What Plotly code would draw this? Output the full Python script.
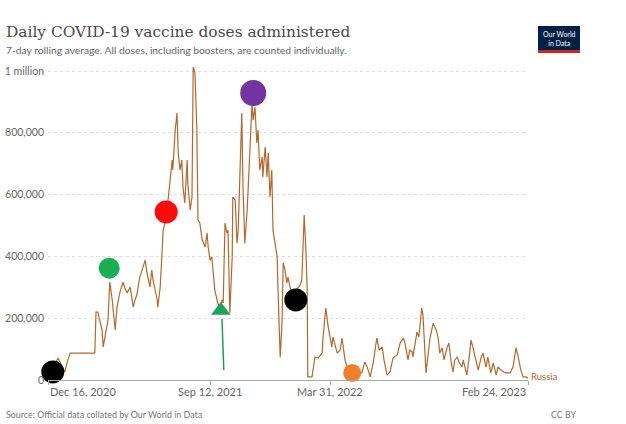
import pandas as pd
import plotly.graph_objects as go

# ---- data ----
start_date = "2020-12-16"
days = [0, 8, 13, 17, 22, 28, 33, 37, 78, 80, 83, 87, 90, 92, 95, 100, 103, 107, 112, 115,
        120, 125, 128, 132, 137, 142, 145, 148, 153, 162, 165, 170, 173, 175, 182, 183, 187,
        190, 192, 197, 200, 203, 207, 208, 212, 215, 217, 220, 223, 225, 228, 232, 233, 237,
        240, 242, 245, 248, 250, 253, 257, 262, 265, 267, 270, 273, 275, 278, 283, 287, 290,
        292, 295, 298, 300, 303, 307, 308, 312, 315, 317, 323, 325, 328, 332, 337, 340, 342,
        345, 348, 350, 353, 357, 358, 362, 365, 367, 370, 373, 375, 378, 382, 383, 387, 390,
        392, 395, 398, 400, 403, 408, 413, 420, 423, 427, 430, 432, 433, 440, 445, 450, 457,
        458, 463, 467, 473, 475, 482, 487, 490, 495, 500, 507, 515, 523, 528, 532, 537, 542,
        548, 552, 557, 560, 565, 570, 575, 582, 587, 592, 595, 598, 600, 603, 607, 608, 612,
        615, 618, 623, 625, 628, 630, 633, 637, 642, 647, 650, 653, 657, 660, 665, 668, 672,
        675, 678, 682, 685, 690, 692, 698, 702, 705, 708, 713, 717, 722, 725, 730, 733, 738,
        742, 747, 750, 755, 762, 770, 775, 780, 783, 788, 792, 797, 800]
doses = [26000, 39000, 58000, 71000, 49000, 26000, 65000, 87000, 87000, 220000, 220000, 188000,
         162000, 107000, 139000, 194000, 317000, 259000, 162000, 236000, 285000, 317000, 298000,
         282000, 301000, 236000, 259000, 275000, 333000, 388000, 346000, 301000, 356000, 324000,
         259000, 236000, 301000, 411000, 485000, 524000, 582000, 657000, 712000, 680000, 809000,
         864000, 735000, 680000, 712000, 625000, 573000, 712000, 637000, 550000, 592000, 1013000,
         993000, 819000, 518000, 508000, 453000, 430000, 476000, 430000, 388000, 398000, 346000,
         291000, 249000, 233000, 259000, 249000, 508000, 476000, 485000, 217000, 398000, 592000,
         582000, 443000, 485000, 864000, 625000, 443000, 550000, 786000, 896000, 841000, 883000,
         767000, 809000, 680000, 722000, 657000, 754000, 657000, 735000, 592000, 680000, 485000,
         443000, 398000, 314000, 74000, 184000, 379000, 356000, 314000, 333000, 307000, 259000,
         291000, 307000, 324000, 534000, 411000, 291000, 10000, 10000, 74000, 71000, 87000,
         129000, 233000, 172000, 107000, 139000, 87000, 97000, 136000, 65000, 32000, 23000,
         16000, 23000, 58000, 42000, 10000, 55000, 136000, 97000, 107000, 65000, 16000, 26000,
         71000, 81000, 120000, 136000, 120000, 87000, 65000, 97000, 91000, 74000, 120000, 155000,
         139000, 233000, 210000, 74000, 23000, 74000, 139000, 184000, 162000, 139000, 87000,
         104000, 65000, 104000, 120000, 58000, 26000, 65000, 74000, 58000, 42000, 65000, 16000,
         74000, 129000, 107000, 65000, 32000, 74000, 87000, 42000, 74000, 23000, 55000, 16000,
         42000, 32000, 23000, 23000, 42000, 104000, 81000, 32000, 10000, 10000, 6000]
country = "Russia"

y_tick_values = [0, 200000, 400000, 600000, 800000, 1000000]
y_tick_labels = ["0", "200,000", "400,000", "600,000", "800,000", "1 million"]
x_tick_dates = ["2020-12-16", "2021-09-12", "2022-03-31", "2023-02-24"]
x_tick_labels = ["Dec 16, 2020", "Sep 12, 2021", "Mar 31, 2022", "Feb 24, 2023"]

# hand-drawn highlight marks on the picture
note_days = [8, 102, 197, 342, 413, 507]
note_values = [26000, 362000, 544000, 929000, 259000, 23000]
note_colors = ["#000000", "#19b052", "#ff0a0a", "#7433a3", "#000000", "#f07f2c"]
note_sizes = [23, 21, 23, 26, 23, 18]
arrow_days = [290, 293]
arrow_values = [197000, 32000]
arrow_head_day = 288
arrow_head_value = 225000

# ---- figure ----
t0 = pd.Timestamp(start_date)
dates = [t0 + pd.Timedelta(days=d) for d in days]
note_dates = [t0 + pd.Timedelta(days=d) for d in note_days]
arrow_dates = [t0 + pd.Timedelta(days=d) for d in arrow_days]

line_color = "#b5672d"

fig = go.Figure()
fig.add_trace(go.Scatter(x=dates, y=doses, mode="lines",
                         line=dict(color=line_color, width=1.2), cliponaxis=False,
                         hoverinfo="skip"))
fig.add_trace(go.Scatter(x=arrow_dates, y=arrow_values, mode="lines",
                         line=dict(color="#1aa35a", width=1.5), cliponaxis=False))
fig.add_trace(go.Scatter(x=[t0 + pd.Timedelta(days=arrow_head_day)], y=[arrow_head_value],
                         mode="markers", cliponaxis=False,
                         marker=dict(symbol="triangle-up", size=17, color="#1aa35a",
                                     opacity=1)))
fig.add_trace(go.Scatter(x=note_dates, y=note_values, mode="markers", cliponaxis=False,
                         marker=dict(size=note_sizes, color=note_colors, opacity=1,
                                     line=dict(width=0))))

grey = "#666666"
annotations = []
anchors = ["left", "center", "center", "right"]
for d, lab, anc in zip(x_tick_dates, x_tick_labels, anchors):
    annotations.append(dict(x=d, y=0, xref="x", yref="paper", yanchor="top", yshift=-3,
                            xanchor=anc, text=lab, showarrow=False,
                            font=dict(family="Lato", size=11, color=grey)))
annotations.append(dict(x=1, y=0, xref="paper", yref="paper", xanchor="left", yanchor="middle",
                        xshift=1, yshift=4, text=country, showarrow=False,
                        font=dict(family="Lato", size=9.5, color=line_color)))
annotations.append(dict(x=0, y=1, xref="paper", yref="paper", xanchor="left", yanchor="top",
                        xshift=-48 + 4, yshift=67 - 21, text="Daily COVID-19 vaccine doses administered",
                        showarrow=False, font=dict(family="DejaVu Serif", size=15.4, color="#4a4a4a")))
annotations.append(dict(x=0, y=1, xref="paper", yref="paper", xanchor="left", yanchor="top",
                        xshift=-48 + 4, yshift=67 - 42,
                        text="7-day rolling average. All doses, including boosters, are counted individually.",
                        showarrow=False, font=dict(family="Lato", size=10.3, color=grey)))
annotations.append(dict(x=0, y=0, xref="paper", yref="paper", xanchor="left", yanchor="middle",
                        xshift=-48 + 4, yshift=-34,
                        text="Source: Official data collated by Our World in Data",
                        showarrow=False, font=dict(family="Lato", size=8.9, color="#777777")))
annotations.append(dict(x=1, y=0, xref="paper", yref="paper", xanchor="right", yanchor="middle",
                        xshift=98 - 47, yshift=-34, text="CC BY",
                        showarrow=False, font=dict(family="Lato", size=8.9, color="#777777")))
annotations.append(dict(x=1, y=1, xref="paper", yref="paper", xanchor="center", yanchor="middle",
                        xshift=559 - 528, yshift=67 - 38, text="Our World<br>in Data",
                        showarrow=False, font=dict(family="Lato", size=7, color="white")))

fig.update_layout(
    width=626, height=424,
    margin=dict(l=48, r=98, t=67, b=44, autoexpand=False),
    paper_bgcolor="white", plot_bgcolor="white",
    showlegend=False,
    annotations=annotations,
    xaxis=dict(range=[x_tick_dates[0], x_tick_dates[-1]], type="date",
               tickvals=x_tick_dates, showticklabels=False, automargin=False,
               ticks="outside", ticklen=4, tickcolor="#a8a8a8",
               showgrid=False, zeroline=False, showline=True, linecolor="#a8a8a8",
               linewidth=1),
    yaxis=dict(range=[0, 1013000], tickvals=y_tick_values, ticktext=y_tick_labels,
               tickfont=dict(family="Lato", size=10.5, color=grey), automargin=False,
               showgrid=True, gridcolor="#dcdcdc", griddash="dot", gridwidth=1,
               zeroline=False, showline=False, ticks="", ticklabelstandoff=3),
)

# logo box (pixel-positioned relative to the top-right corner of the plot)
fig.add_shape(type="rect", xref="paper", yref="paper", xsizemode="pixel", ysizemode="pixel",
              xanchor=1, yanchor=1, x0=538 - 528, x1=580 - 528, y0=67 - 50, y1=67 - 26,
              fillcolor="#002147", line=dict(width=0), layer="below")
fig.add_shape(type="rect", xref="paper", yref="paper", xsizemode="pixel", ysizemode="pixel",
              xanchor=1, yanchor=1, x0=538 - 528, x1=580 - 528, y0=67 - 53, y1=67 - 50,
              fillcolor="#ce261e", line=dict(width=0), layer="below")

fig.write_html("out.html", config={"displayModeBar": False},
               post_script="document.body.style.margin='0';")
